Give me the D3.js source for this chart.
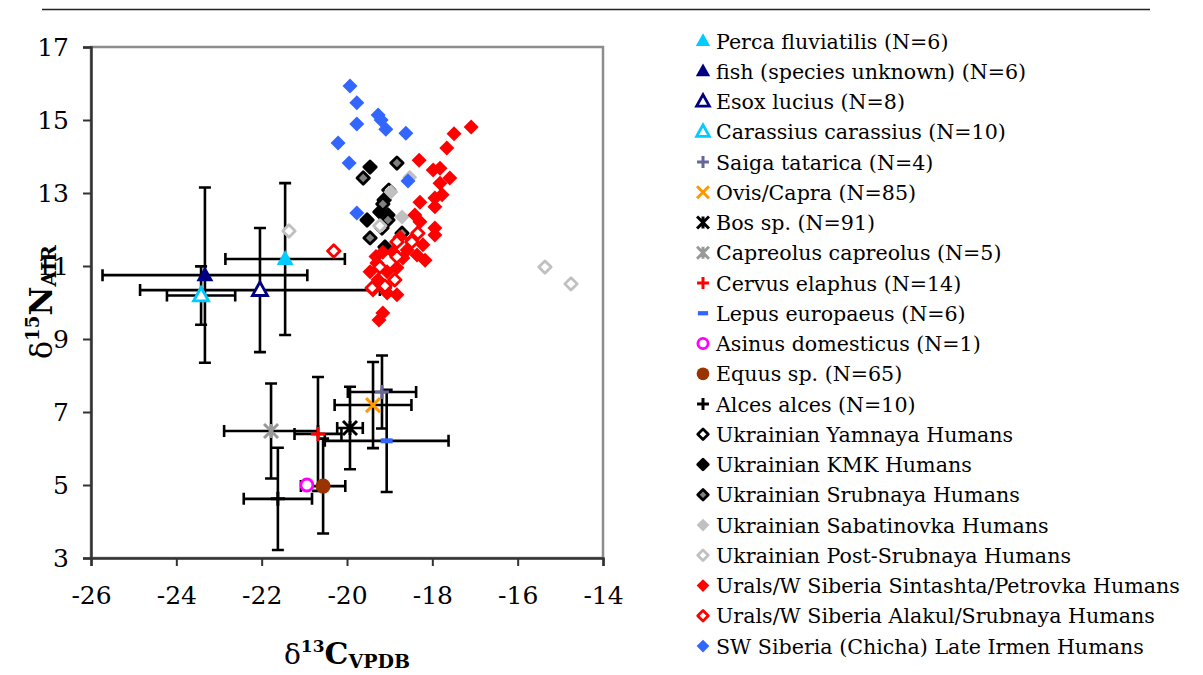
<!DOCTYPE html>
<html>
<head>
<meta charset="utf-8">
<script src="https://cdn.jsdelivr.net/npm/d3@7"></script>
<style>
  html, body { margin: 0; padding: 0; background: #fff; }
  svg { display: block; }
  text { font-family: "DejaVu Serif", "Liberation Serif", serif; fill: #000; }
</style>
</head>
<body>
<svg id="chart" width="1203" height="675"></svg>
<script>
// ---- Faunal means with 1 SD (δ13C, δ15N) ----
const faunaNames = ["Perca fluviatilis", "fish (species unknown)", "Esox lucius", "Carassius carassius",
  "Saiga tatarica", "Ovis/Capra", "Bos sp.", "Capreolus capreolus", "Cervus elaphus",
  "Lepus europaeus", "Asinus domesticus", "Equus sp.", "Alces alces"];
const faunaN     = [6, 6, 8, 10, 4, 85, 91, 5, 14, 6, 1, 65, 10];
const faunaC     = [-21.45, -23.33, -22.04, -23.42, -19.18, -19.39, -19.93, -21.78, -20.68, -19.07, -20.94, -20.56, -21.62];
const faunaNval  = [11.19, 10.75, 10.34, 10.19, 7.55, 7.19, 6.56, 6.48, 6.40, 6.21, 5.00, 4.97, 4.62];
const faunaSdC   = [1.40, 2.40, 2.81, 0.80, 0.80, 0.90, 0.30, 1.10, 0.55, 1.45, 0, 0.52, 0.80];
const faunaSdN   = [2.08, 2.40, 1.70, 0.80, 1.00, 1.18, 1.13, 1.30, 1.56, 1.40, 0, 1.30, 1.40];

// ---- Human individuals [δ13C, δ15N] ----
const yamnaya = [[-19.02, 13.08], [-19.18, 12.04]];
const kmk = [[-19.46, 13.71], [-19.13, 12.81], [-19.04, 12.40], [-19.23, 12.48], [-19.53, 12.26], [-19.11, 11.52]];
const srubnaya = [[-18.83, 13.82], [-19.62, 13.41], [-19.16, 12.70], [-19.46, 11.77], [-19.04, 12.26], [-18.71, 11.90]];
const sabatinovka = [[-18.97, 13.03], [-18.71, 12.34], [-18.53, 13.43]];
const postSrubnaya = [[-21.36, 11.96], [-15.36, 10.97], [-14.75, 10.51], [-19.23, 12.10]];
const sintashta = [[-17.09, 14.81], [-17.49, 14.62], [-17.66, 14.23], [-18.31, 13.90], [-17.98, 13.63],
  [-17.82, 13.68], [-17.59, 13.41], [-17.82, 13.27], [-18.29, 12.75], [-17.94, 12.86], [-17.77, 12.95],
  [-17.94, 12.62], [-18.41, 12.40], [-18.29, 12.21], [-17.94, 12.04], [-17.94, 11.85], [-18.48, 11.71],
  [-18.76, 11.79], [-18.22, 11.58], [-18.17, 11.16], [-18.36, 11.30], [-18.59, 11.44], [-18.69, 11.22],
  [-18.92, 11.38], [-19.16, 11.38], [-19.30, 11.08], [-18.83, 10.95], [-19.06, 10.84], [-19.46, 10.84],
  [-19.27, 10.62], [-18.88, 10.62], [-19.11, 10.40], [-19.06, 10.26], [-18.83, 10.21], [-19.16, 9.71],
  [-19.25, 9.52], [-19.39, 10.34], [-19.32, 11.26]];
const alakul = [[-20.31, 11.41], [-18.83, 11.66], [-18.48, 11.66], [-18.34, 11.90], [-18.83, 11.25],
  [-19.23, 10.97], [-18.88, 10.62], [-19.11, 10.45], [-19.41, 10.40]];
const lateIrmen = [[-19.93, 15.93], [-19.77, 15.47], [-19.27, 15.14], [-19.20, 15.00], [-19.09, 14.75],
  [-19.77, 14.89], [-18.62, 14.64], [-20.21, 14.37], [-19.95, 13.82], [-18.57, 13.33], [-19.77, 12.45]];

const humanNames = ["Ukrainian Yamnaya Humans", "Ukrainian KMK Humans", "Ukrainian Srubnaya Humans",
  "Ukrainian Sabatinovka Humans", "Ukrainian Post-Srubnaya Humans", "Urals/W Siberia Sintashta/Petrovka Humans",
  "Urals/W Siberia Alakul/Srubnaya Humans", "SW Siberia (Chicha) Late Irmen Humans"];
const humanData = [yamnaya, kmk, srubnaya, sabatinovka, postSrubnaya, sintashta, alakul, lateIrmen];

// ---- Axis ticks ----
const xTicks = [-26, -24, -22, -20, -18, -16, -14];
const yTicks = [3, 5, 7, 9, 11, 13, 15, 17];

// ---- Marker styles ----
const faunaStyle = [
  { shape: "triUp", fill: "#00ccff", stroke: "none" },
  { shape: "triUp", fill: "#000080", stroke: "none" },
  { shape: "triOpen", fill: "#fff", stroke: "#000080" },
  { shape: "triOpen", fill: "#fff", stroke: "#00ccff" },
  { shape: "plus", stroke: "#666699" },
  { shape: "cross", stroke: "#ff9900" },
  { shape: "star", stroke: "#000" },
  { shape: "star", stroke: "#999999" },
  { shape: "plus", stroke: "#ff0000" },
  { shape: "dash", fill: "#3366ff" },
  { shape: "circleOpen", fill: "#fff", stroke: "#ff00ff" },
  { shape: "circle", fill: "#993300" },
  { shape: "plus", stroke: "#000" }
];
const humanStyle = [
  { shape: "diamond", fill: "#fff", stroke: "#000" },
  { shape: "diamond", fill: "#000", stroke: "#000" },
  { shape: "diamond", fill: "#808080", stroke: "#000" },
  { shape: "diamond", fill: "#c0c0c0", stroke: "none" },
  { shape: "diamond", fill: "#fff", stroke: "#c0c0c0" },
  { shape: "diamond", fill: "#ff0000", stroke: "none" },
  { shape: "diamond", fill: "#fff", stroke: "#ff0000" },
  { shape: "diamond", fill: "#3366ff", stroke: "none" }
];

const svg = d3.select("#chart");
const plot = { left: 91, right: 603, top: 47, bottom: 558 };
const x = d3.scaleLinear().domain([-26, -14]).range([plot.left, plot.right]);
const y = d3.scaleLinear().domain([3, 17]).range([plot.bottom, plot.top]);

// rule across the top of the figure
svg.append("line").attr("x1", 42).attr("x2", 1150).attr("y1", 9.5).attr("y2", 9.5)
  .attr("stroke", "#222").attr("stroke-width", 1.5);

// plot frame
svg.append("rect").attr("x", plot.left).attr("y", plot.top)
  .attr("width", plot.right - plot.left).attr("height", plot.bottom - plot.top)
  .attr("fill", "none").attr("stroke", "#8c8c8c").attr("stroke-width", 2.5);

// axes
const yAxis = svg.append("g").attr("transform", `translate(${plot.left},0)`)
  .call(d3.axisLeft(y).tickValues(yTicks).tickSize(8).tickPadding(14).tickFormat(d3.format("d")));
const xAxis = svg.append("g").attr("transform", `translate(0,${plot.bottom})`)
  .call(d3.axisBottom(x).tickValues(xTicks).tickSize(8).tickPadding(20).tickFormat(d => d3.format("d")(d).replace("−", "-")));
[yAxis, xAxis].forEach(g => {
  g.select(".domain").attr("stroke", "#333").attr("stroke-width", 2.5);
  g.selectAll(".tick line").attr("stroke", "#333").attr("stroke-width", 2);
  g.selectAll(".tick text").style("font-family", "'DejaVu Serif', serif").style("font-size", "25px").attr("fill", "#000");
});

// marker drawing
function drawMarker(g, style, cx, cy, scale) {
  const s = scale || 1;
  const sw = 2.8;
  switch (style.shape) {
    case "triUp": {
      const w = 8.5 * s, h = 15 * s;
      g.append("path").attr("d", `M${cx},${cy - h * 0.6}L${cx + w},${cy + h * 0.4}L${cx - w},${cy + h * 0.4}Z`)
        .attr("fill", style.fill);
      break;
    }
    case "triOpen": {
      const w = 7.5 * s, h = 13.5 * s;
      g.append("path").attr("d", `M${cx},${cy - h * 0.6}L${cx + w},${cy + h * 0.4}L${cx - w},${cy + h * 0.4}Z`)
        .attr("fill", style.fill).attr("stroke", style.stroke).attr("stroke-width", sw).attr("stroke-linejoin", "miter");
      break;
    }
    case "plus": {
      const r = 7 * s;
      g.append("path").attr("d", `M${cx - r},${cy}H${cx + r}M${cx},${cy - r}V${cy + r}`)
        .attr("stroke", style.stroke).attr("stroke-width", 3).attr("fill", "none");
      break;
    }
    case "cross": {
      const r = 7 * s;
      g.append("path").attr("d", `M${cx - r},${cy - r}L${cx + r},${cy + r}M${cx - r},${cy + r}L${cx + r},${cy - r}`)
        .attr("stroke", style.stroke).attr("stroke-width", 3).attr("fill", "none");
      break;
    }
    case "star": {
      const r = 7 * s;
      g.append("path").attr("d", `M${cx - r},${cy - r}L${cx + r},${cy + r}M${cx - r},${cy + r}L${cx + r},${cy - r}M${cx},${cy - r}V${cy + r}`)
        .attr("stroke", style.stroke).attr("stroke-width", 3).attr("fill", "none");
      break;
    }
    case "dash": {
      g.append("rect").attr("x", cx - 6 * s).attr("y", cy - 2.5 * s).attr("width", 12 * s).attr("height", 5 * s)
        .attr("fill", style.fill);
      break;
    }
    case "circle": {
      g.append("circle").attr("cx", cx).attr("cy", cy).attr("r", 7.5 * s).attr("fill", style.fill);
      break;
    }
    case "circleOpen": {
      g.append("circle").attr("cx", cx).attr("cy", cy).attr("r", 6 * s).attr("fill", style.fill)
        .attr("stroke", style.stroke).attr("stroke-width", sw);
      break;
    }
    case "diamond": {
      const open = style.stroke !== "none";
      const r = (open ? 6.2 : 7.5) * s;
      const p = g.append("path").attr("d", `M${cx},${cy - r}L${cx + r},${cy}L${cx},${cy + r}L${cx - r},${cy}Z`)
        .attr("fill", style.fill);
      if (open) p.attr("stroke", style.stroke).attr("stroke-width", sw).attr("stroke-linejoin", "round");
      break;
    }
  }
}

// error bars (±1 SD) behind everything
const errG = svg.append("g").attr("stroke", "#000").attr("stroke-width", 2.6).attr("fill", "none");
const cap = 6;
faunaC.forEach((c, i) => {
  const cx = x(c), cy = y(faunaNval[i]);
  if (faunaSdC[i] > 0) {
    const x0 = x(c - faunaSdC[i]), x1 = x(c + faunaSdC[i]);
    errG.append("path").attr("d", `M${x0},${cy}H${x1}M${x0},${cy - cap}V${cy + cap}M${x1},${cy - cap}V${cy + cap}`);
  }
  if (faunaSdN[i] > 0) {
    const y0 = y(faunaNval[i] - faunaSdN[i]), y1 = y(faunaNval[i] + faunaSdN[i]);
    errG.append("path").attr("d", `M${cx},${y0}V${y1}M${cx - cap},${y0}H${cx + cap}M${cx - cap},${y1}H${cx + cap}`);
  }
});

// human individuals
const humG = svg.append("g");
humanData.forEach((pts, i) => {
  pts.forEach(p => drawMarker(humG, humanStyle[i], x(p[0]), y(p[1])));
});

// faunal means
const fauG = svg.append("g");
faunaC.forEach((c, i) => drawMarker(fauG, faunaStyle[i], x(c), y(faunaNval[i])));

// legend
const legend = svg.append("g");
const legendLabels = faunaNames.map((n, i) => `${n} (N=${faunaN[i]})`).concat(humanNames);
const legendStyles = faunaStyle.concat(humanStyle);
legendLabels.forEach((lab, i) => {
  const ly = 41 + i * 30.25;
  drawMarker(legend, legendStyles[i], 703, ly, 0.85);
  legend.append("text").attr("x", 716).attr("y", ly + 7.5).style("font-size", "20.6px").text(lab);
});

// axis titles
const xt = svg.append("text").attr("x", 347).attr("y", 664).attr("text-anchor", "middle").style("font-weight", "bold");
xt.append("tspan").style("font-size", "28px").style("font-weight", "normal").text("δ");
xt.append("tspan").style("font-size", "17px").attr("dy", -12).text("13");
xt.append("tspan").style("font-size", "30px").attr("dy", 12).text("C");
xt.append("tspan").style("font-size", "19px").attr("dy", 4).text("VPDB");

const yt = svg.append("text").attr("transform", "translate(52,302) rotate(-90)").attr("text-anchor", "middle").style("font-weight", "bold");
yt.append("tspan").style("font-size", "30px").style("font-weight", "normal").text("δ");
yt.append("tspan").style("font-size", "18px").attr("dy", -13).text("15");
yt.append("tspan").style("font-size", "32px").attr("dy", 13).text("N");
yt.append("tspan").style("font-size", "20px").attr("dy", 4).text("AIR");
</script>
</body>
</html>
